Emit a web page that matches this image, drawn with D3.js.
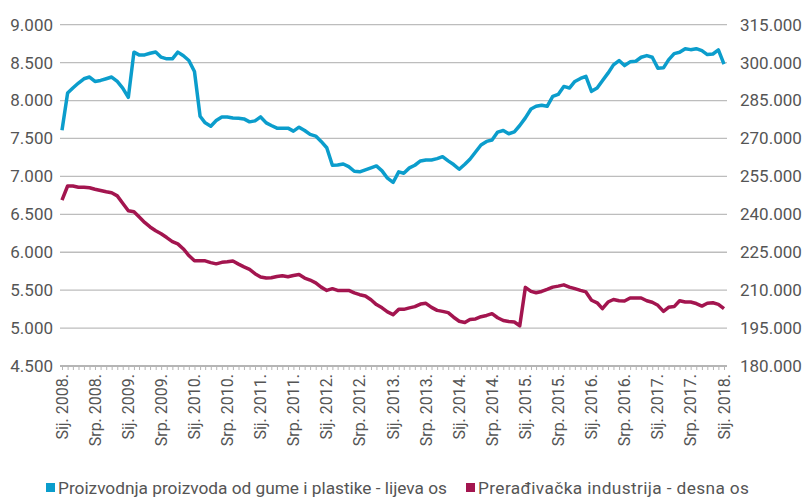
<!DOCTYPE html>
<html><head><meta charset="utf-8">
<script src="https://cdn.jsdelivr.net/npm/d3@7"></script>
<style>
html,body{margin:0;padding:0;background:#fff;}
svg{display:block;}
text{font-family:"Roboto","DejaVu Sans Condensed",sans-serif;fill:#555;}
</style></head>
<body>
<svg id="c" width="806" height="499"></svg>
<script>
// Monthly data, Jan 2008 .. Jan 2018
const startYear = 2008, startMonth = 0;
const rubberPlastics = [
 7609,8100,8165,8231,8287,8310,8252,8265,8287,8310,8252,8165,
 8042,8638,8602,8602,8624,8640,8572,8550,8550,8638,8590,8528,
 8383,7793,7706,7662,7736,7784,7784,7771,7767,7758,7719,7732,
 7784,7706,7671,7636,7636,7636,7597,7649,7605,7553,7531,7461,
 7378,7147,7151,7164,7129,7068,7060,7086,7112,7138,7073,6976,
 6920,7060,7042,7112,7147,7204,7217,7217,7234,7260,7204,7156,
 7094,7160,7226,7322,7414,7461,7479,7584,7605,7562,7588,7671,
 7771,7889,7924,7937,7924,8055,8081,8186,8165,8252,8291,8318,
 8121,8165,8261,8361,8470,8527,8461,8510,8518,8571,8593,8571,
 8427,8431,8536,8619,8636,8684,8671,8684,8658,8606,8614,8667,
 8479
];
const manufacturing = [
 245600,251200,251200,250700,250700,250500,249900,249400,248900,248500,247300,244400,
 241400,241000,239000,236800,235000,233500,232300,230800,229200,228300,226300,223700,
 221600,221600,221600,220900,220400,221000,221200,221500,220300,219200,218200,216500,
 215200,214800,214900,215400,215700,215300,215800,216200,214800,214000,212900,211200,
 209900,210600,209900,209900,209900,208900,208200,207700,206200,204300,203000,201400,
 200300,202400,202400,203000,203500,204500,204800,203200,202000,201600,201100,199300,
 197700,197200,198400,198600,199500,200000,200700,199100,198000,197600,197400,195900,
 211100,209500,209000,209500,210300,211200,211600,212100,211200,210600,209900,209300,
 206000,205000,202700,205300,206300,205800,205700,206900,206900,206900,205800,205200,
 204000,201600,203200,203500,205800,205300,205300,204700,203700,204800,205000,204400,
 202700
];
const leftTicks = [4500,5000,5500,6000,6500,7000,7500,8000,8500,9000];
const rightTicks = [180000,195000,210000,225000,240000,255000,270000,285000,300000,315000];
const monthNames = ["Sij.","Srp."];  // January, July
const seriesNames = ["Proizvodnja proizvoda od gume i plastike - lijeva os","Prerađivačka industrija - desna os"];
const seriesColors = ["#0b9dcc","#a3154f"];

const dates = rubberPlastics.map((_,i)=>new Date(startYear, startMonth+i, 1));
const labelDates = dates.filter(d=>d.getMonth()===0||d.getMonth()===6);

const svg = d3.select("#c");
const L = 62, R = 724, T = 24.7, B = 366;
const x = d3.scaleTime().domain([dates[0], dates[dates.length-1]]).range([L,R]);
const yL = d3.scaleLinear().domain([4500,9000]).range([B,T]);
const yR = d3.scaleLinear().domain([180000,315000]).range([B,T]);
const loc = d3.formatLocale({decimal:",",thousands:".",grouping:[3],currency:["","€"]});
const fmt = loc.format(",.0f");

// gridlines
svg.append("g").selectAll("line").data(leftTicks.slice(1)).join("line")
  .attr("x1",L-2).attr("x2",R+3)
  .attr("y1",d=>yL(d)).attr("y2",d=>yL(d))
  .attr("stroke","#bdbdbd").attr("stroke-width",1.3);

// left axis labels
svg.append("g").selectAll("text").data(leftTicks).join("text")
  .attr("x",53).attr("y",d=>yL(d)).attr("dy","0.35em")
  .attr("text-anchor","end").style("font-size","17px").text(d=>fmt(d));
// right axis labels
svg.append("g").selectAll("text").data(rightTicks).join("text")
  .attr("x",740).attr("y",d=>yR(d)).attr("dy","0.35em")
  .attr("text-anchor","start").style("font-size","17px").text(d=>fmt(d));

// x axis with monthly minor ticks
const xAxis = d3.axisBottom(x).tickValues(dates).tickSize(4).tickFormat("");
const gx = svg.append("g").attr("transform",`translate(0,${B})`).call(xAxis);
gx.select(".domain").attr("stroke","#b5b5b5").attr("stroke-width",2).attr("d",`M${L-2},0H${R+3}`);
gx.selectAll(".tick line").attr("stroke","#b5b5b5").attr("stroke-width",1);

// x labels
svg.append("g").selectAll("text").data(labelDates).join("text")
  .attr("transform",d=>`translate(${x(d)},${B+8}) rotate(-90)`)
  .attr("dy","0.35em").attr("text-anchor","end").style("font-size","16px")
  .text(d=>monthNames[d.getMonth()===0?0:1]+" "+d.getFullYear()+".");

// lines
const lineL = d3.line().x((d,i)=>x(dates[i])).y(d=>yL(d));
const lineR = d3.line().x((d,i)=>x(dates[i])).y(d=>yR(d));
svg.append("path").datum(manufacturing).attr("d",lineR).attr("fill","none")
  .attr("stroke",seriesColors[1]).attr("stroke-width",3.5).attr("stroke-linejoin","round");
svg.append("path").datum(rubberPlastics).attr("d",lineL).attr("fill","none")
  .attr("stroke",seriesColors[0]).attr("stroke-width",3.5).attr("stroke-linejoin","round");

// legend
const legX = [46, 466];
const legW = [389, 271];
const lg = svg.append("g").selectAll("g").data(seriesNames).join("g")
  .attr("transform",(d,i)=>`translate(${legX[i]},488)`);
lg.append("rect").attr("x",0).attr("y",-5).attr("width",9).attr("height",9).attr("fill",(d,i)=>seriesColors[i]);
lg.append("text").attr("x",12).attr("y",0).attr("dy","0.35em").style("font-size","17.3px")
  .attr("textLength",(d,i)=>legW[i]).attr("lengthAdjust","spacing").text(d=>d);
</script>
</body></html>
